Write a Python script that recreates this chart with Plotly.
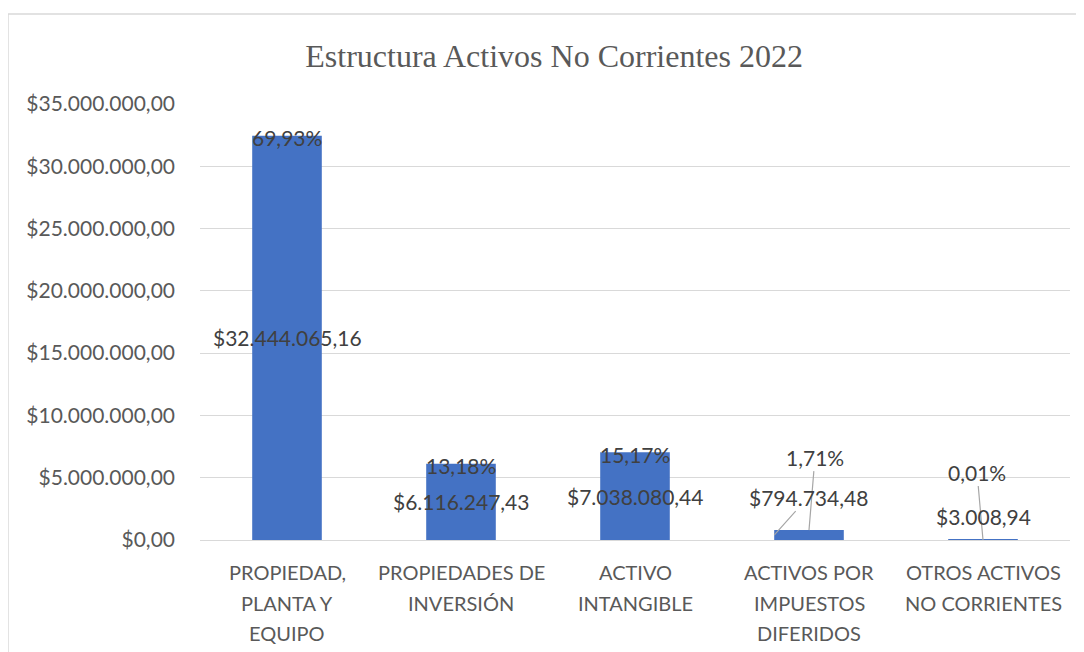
import plotly.graph_objects as go

categories = [
    "PROPIEDAD, PLANTA Y EQUIPO",
    "PROPIEDADES DE INVERSIÓN",
    "ACTIVO INTANGIBLE",
    "ACTIVOS POR IMPUESTOS DIFERIDOS",
    "OTROS ACTIVOS NO CORRIENTES",
]
tick_labels = [
    "PROPIEDAD,<br>PLANTA Y<br>EQUIPO",
    "PROPIEDADES DE<br>INVERSIÓN",
    "ACTIVO<br>INTANGIBLE",
    "ACTIVOS POR<br>IMPUESTOS<br>DIFERIDOS",
    "OTROS ACTIVOS<br>NO CORRIENTES",
]
values = [32444065.16, 6116247.43, 7038080.44, 794734.48, 3008.94]
value_labels = ["$32.444.065,16", "$6.116.247,43", "$7.038.080,44", "$794.734,48", "$3.008,94"]
pct_labels = ["69,93%", "13,18%", "15,17%", "1,71%", "0,01%"]

BAR = "#4472C4"
GRID = "#D9D9D9"
AXIS_TXT = "#595959"
LABEL_TXT = "#404040"
LEADER = "#A6A6A6"
FONT = "Lato"

fig = go.Figure(go.Bar(
    x=categories, y=values,
    marker_color=BAR, marker_line_width=0,
    hoverinfo="skip",
))

ann = []
lab_font = dict(family=FONT, size=21, color=LABEL_TXT)
# large bars: value centred in bar, percentage at bar top
for i in range(3):
    ann.append(dict(x=categories[i], y=values[i] / 2, text=value_labels[i],
                    showarrow=False, font=lab_font))
    ann.append(dict(x=categories[i], y=values[i], text=pct_labels[i],
                    showarrow=False, yshift=-2, font=lab_font))

# small bars: labels pulled out with leader lines
leader = dict(showarrow=True, arrowhead=0, arrowwidth=1.2, arrowcolor=LEADER,
              standoff=0, startstandoff=0, font=lab_font)
ann.append(dict(x=3, y=values[3], text=pct_labels[3], ax=6, ay=-73, **leader))
ann.append(dict(x=2.8, y=values[3] / 2, text=value_labels[3], ax=34, ay=-38, **leader))
ann.append(dict(x=4, y=0, text=pct_labels[4], ax=-6, ay=-68, **leader))
ann.append(dict(x=4, y=values[4], text=value_labels[4], showarrow=False,
                yshift=23, font=lab_font))

# category labels, one line at a time (Excel spacing is looser than plotly's)
for cat, lbl in zip(categories, tick_labels):
    for k, line in enumerate(lbl.split("<br>")):
        ann.append(dict(x=cat, y=0, yref="paper", text=line, showarrow=False,
                        yanchor="middle", yshift=-32 - 30.5 * k,
                        font=dict(family=FONT, size=20, color=AXIS_TXT)))

fig.update_layout(
    width=1084, height=652,
    paper_bgcolor="white", plot_bgcolor="white",
    margin=dict(l=192, r=22, t=96, b=120),
    separators=",.",
    showlegend=False,
    bargap=0.6,
    title=dict(
        text="Estructura Activos No Corrientes 2022",
        font=dict(family="Liberation Serif", size=32, color=AXIS_TXT),
        x=0.407, xref="paper", xanchor="center",
        y=1 - 48 / 652, yref="container", yanchor="middle",
    ),
    font=dict(family=FONT, size=21, color=AXIS_TXT),
    annotations=ann,
    shapes=[dict(type="rect", xref="paper", yref="paper",
                 x0=-0.2207, x1=1.5, y0=-0.6, y1=1.2064,
                 line=dict(color=GRID, width=1.5), layer="below")],
)
fig.update_xaxes(
    showticklabels=False,
    showgrid=False, showline=False, ticks="", zeroline=False,
)
fig.update_yaxes(
    range=[0, 35e6], dtick=5e6, tickprefix="$", tickformat=",.2f",
    showgrid=True, gridcolor=GRID, gridwidth=1.3,
    zeroline=True, zerolinecolor=GRID, zerolinewidth=1.3,
    showline=False, ticks="", ticklabelstandoff=24,
    tickfont=dict(family=FONT, size=21, color=AXIS_TXT),
)

fig.write_html("out.html")
